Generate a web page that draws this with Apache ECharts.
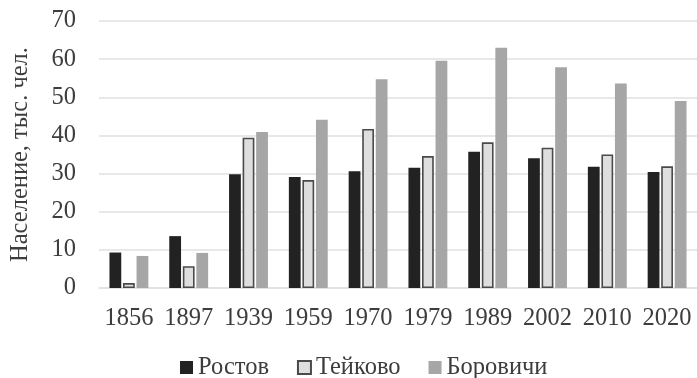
<!DOCTYPE html>
<html>
<head>
<meta charset="utf-8">
<script src="https://cdn.jsdelivr.net/npm/echarts@6/dist/echarts.min.js"></script>
<style>
html,body{margin:0;padding:0;background:#fff;}
#chart{width:697px;height:378px;}
</style>
</head>
<body>
<div id="chart"></div>
<script>
const categories = ['1856','1897','1939','1959','1970','1979','1989','2002','2010','2020'];
const rostov   = [9.3, 13.6, 29.8, 29.1, 30.6, 31.5, 35.7, 34.0, 31.8, 30.4];
const teikovo  = [1.3, 5.7, 39.4, 28.3, 41.7, 34.6, 38.2, 36.8, 35.0, 31.9];
const borovichi= [8.4, 9.2, 40.9, 44.1, 54.7, 59.6, 63.0, 57.9, 53.6, 49.0];
const yTicks = [0, 10, 20, 30, 40, 50, 60, 70];
const yAxisName = 'Население, тыс. чел.';
const seriesNames = ['Ростов', 'Тейково', 'Боровичи'];

const FONT = '"Liberation Serif", "Times New Roman", Times, serif';
const TXT = '#3d3d3d';

const chart = echarts.init(document.getElementById('chart'), null, {renderer: 'canvas'});
chart.setOption({
  animation: false,
  backgroundColor: '#ffffff',
  textStyle: {fontFamily: FONT},
  grid: {left: 96.5, right: -3, top: 21, bottom: 90},
  legend: {
    left: 175, top: 350,
    itemWidth: 13, itemHeight: 13, itemGap: 28,
    textStyle: {fontFamily: FONT, fontSize: 24.5, color: TXT},
    data: [
      {name: seriesNames[0], icon: 'rect'},
      {name: seriesNames[1], icon: 'rect'},
      {name: seriesNames[2], icon: 'rect'}
    ]
  },
  xAxis: {
    type: 'category',
    data: categories,
    axisTick: {show: false},
    axisLine: {show: true, lineStyle: {color: '#e0e0e0', width: 1.5}},
    axisLabel: {interval: 0, margin: 18, fontFamily: FONT, fontSize: 24.5, color: TXT}
  },
  yAxis: {
    type: 'value',
    min: yTicks[0], max: yTicks[yTicks.length-1], interval: 10,
    name: yAxisName,
    nameLocation: 'middle',
    nameRotate: 90,
    nameGap: 66,
    nameTextStyle: {fontFamily: FONT, fontSize: 24.5, color: TXT},
    axisLine: {show: false},
    axisTick: {show: false},
    axisLabel: {margin: 23, fontFamily: FONT, fontSize: 24.5, color: TXT},
    splitLine: {lineStyle: {color: '#e0e0e0', width: 1.5}}
  },
  series: [
    {name: seriesNames[0], type: 'bar', data: rostov, barCategoryGap: '35%', barGap: '15%',
     itemStyle: {color: '#222222'}},
    {name: seriesNames[1], type: 'bar', data: teikovo,
     itemStyle: {color: '#dedede', borderColor: '#4a4a4a', borderWidth: 1.6}},
    {name: seriesNames[2], type: 'bar', data: borovichi,
     itemStyle: {color: '#a6a6a6'}}
  ]
});
</script>
</body>
</html>
